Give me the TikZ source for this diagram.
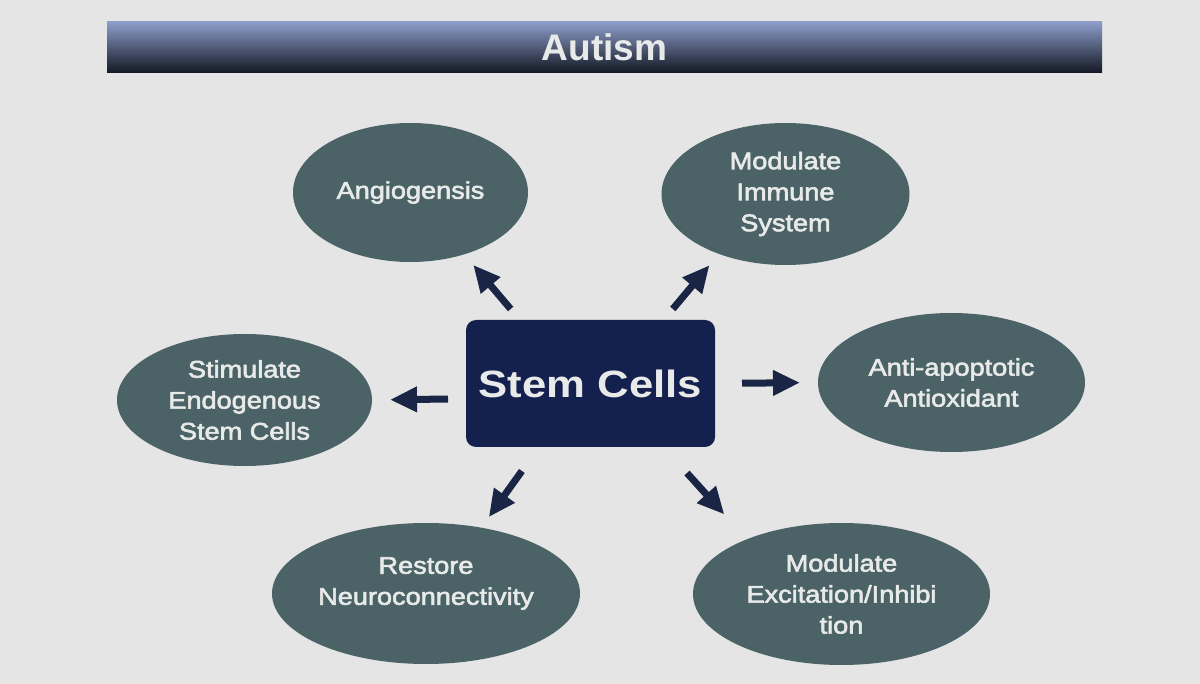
\documentclass[tikz,border=0pt]{standalone}
\usepackage{fontspec}
\setmainfont{Liberation Sans}
\newfontfamily\ellfont[FakeStretch=1.13,FakeBold=2.5]{Liberation Sans}
\newfontfamily\boxfont[FakeStretch=1.15]{Liberation Sans}
\usetikzlibrary{shapes.geometric,arrows.meta}
\definecolor{bg}{HTML}{E4E5E4}
\definecolor{ellcol}{HTML}{4B6366}
\definecolor{ltxtcol}{HTML}{E8EAE9}
\definecolor{boxcol}{HTML}{14214E}
\definecolor{arrcol}{HTML}{1A2444}
\definecolor{hdtop}{HTML}{8D9DCA}
\definecolor{hdmid}{HTML}{5A6990}
\definecolor{hdbot}{HTML}{121722}
\begin{document}
\begin{tikzpicture}[x=1pt,y=-1pt,
  ell/.style={ellipse, fill=ellcol, inner sep=0pt, outer sep=0pt},
  ltxt/.style={text=ltxtcol, font=\ellfont\fontsize{24}{31}\selectfont, align=center, inner sep=0pt},
  arr/.style={draw=arrcol, line width=7pt, -{Triangle[length=27pt,width=24pt]}},
  hdr/.style={minimum width=995pt, minimum height=51pt, inner sep=0pt, outer sep=0pt,
    top color=hdtop, middle color=hdmid, bottom color=hdbot, text=ltxtcol,
    font=\bfseries\fontsize{37}{40}\selectfont},
  stembox/.style={minimum width=249pt, minimum height=127pt, inner sep=0pt, outer sep=0pt,
    rounded corners=10pt, fill=boxcol, text=ltxtcol,
    font=\boxfont\bfseries\fontsize{38}{40}\selectfont}
]
\path[use as bounding box, fill=bg] (0,0) rectangle (1200,684);

\node[hdr] (title) at (604.5,47.5) {Autism};

\node[stembox] (sc) at (590.5,383.5) {Stem Cells};

\node[ell, minimum width=235pt, minimum height=139pt,
  label={[ltxt]center:Angiogensis}] (ang) at (410.5,192.5) {};
\node[ell, minimum width=248pt, minimum height=142pt,
  label={[ltxt]center:{Modulate\\Immune\\System}}] (imm) at (785.5,194) {};
\node[ell, minimum width=267pt, minimum height=139pt,
  label={[ltxt]center:{Anti-apoptotic\\Antioxidant}}] (anti) at (951.5,382.5) {};
\node[ell, minimum width=255pt, minimum height=132pt,
  label={[ltxt]center:{Stimulate\\Endogenous\\Stem Cells}}] (stim) at (244.5,400) {};
\node[ell, minimum width=308pt, minimum height=141pt,
  label={[ltxt, yshift=10pt]center:{Restore\\Neuroconnectivity}}] (rest) at (426,593.5) {};
\node[ell, minimum width=297pt, minimum height=142pt,
  label={[ltxt]center:{Modulate\\Excitation/Inhibi\\tion}}] (exc) at (841.5,594) {};

\draw[arr, shorten <=14.4pt, shorten >=13.9pt] (sc.138.3) -- (ang.-49.1);
\draw[arr, shorten <=14.4pt, shorten >=14.7pt] (sc.41.3) -- (imm.-138.3);
\draw[arr, shorten <=27pt, shorten >=18pt] (sc.east) -- (anti.west);
\draw[arr, shorten <=18pt, shorten >=18pt] (sc.187.55) -- (stim.east);
\draw[arr, shorten <=29.5pt, shorten >=13pt] (sc.-129.5) -- (rest.50.5);
\draw[arr, shorten <=35pt, shorten >=33.5pt] (sc.-41.8) -- (exc.150.6);
\end{tikzpicture}
\end{document}
